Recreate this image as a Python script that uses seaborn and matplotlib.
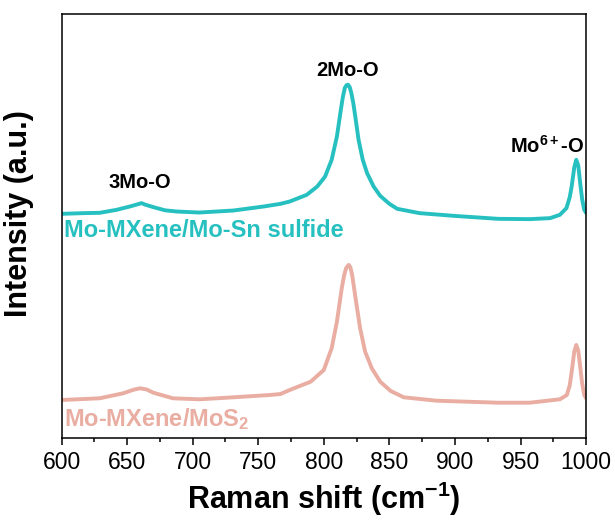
import matplotlib
matplotlib.use("Agg")
import matplotlib.pyplot as plt
from matplotlib.ticker import MultipleLocator
import pandas as pd
import seaborn as sns

# Raman spectra (arbitrary intensity units, offset for display)
shift_sulfide = [600, 617, 629, 642, 652, 658, 661, 664, 670, 679, 688, 705, 731, 754, 767,
                 774, 787, 795, 801, 806, 810, 813, 814.5, 816, 817.3, 818.5, 819.8, 821,
                 822.5, 824, 826.5, 829.7, 833, 838, 843, 850, 856, 873, 899, 933, 957,
                 972.6, 980, 985, 987.5, 989, 991, 992.5, 994, 995.5, 997, 998.6, 1000]
intensity_sulfide = [223.5, 224.2, 224.5, 227.5, 230.8, 233.0, 234.2, 232.6, 230.2, 227.0,
                     225.8, 224.8, 226.8, 230.8, 233.5, 235.8, 242.5, 250.8, 260.8, 277.5,
                     300.8, 327.5, 340.0, 349.2, 352.0, 352.5, 350.0, 344.2, 334.0, 320.8,
                     297.5, 277.5, 264.2, 250.8, 241.5, 233.5, 228.5, 224.2, 221.5, 218.5,
                     218.2, 219.2, 222.5, 229.2, 240.0, 250.8, 270.0, 277.5, 272.0, 254.2,
                     238.0, 227.5, 224.5]

shift_mos2 = [600, 629, 647, 655, 660, 665, 670, 685, 705.6, 731, 759, 767, 774, 790, 800,
              806, 810, 813.7, 815.5, 817, 819, 820.3, 821.6, 824.6, 827.7, 831.5, 836.6,
              843, 851, 861, 886, 933, 957, 980, 985.3, 987.5, 989.2, 991, 992.5, 994,
              995.5, 997, 998.6, 1000]
intensity_mos2 = [37.5, 39.2, 44.2, 47.8, 49.2, 48.0, 44.8, 39.2, 38.2, 40.2, 42.5, 43.5,
                  47.5, 55.8, 67.5, 89.2, 115.8, 149.2, 162.0, 169.2, 172.5, 170.0, 162.5,
                  135.8, 109.2, 85.8, 69.2, 55.8, 46.5, 40.2, 36.8, 34.8, 34.8, 38.2, 42.5,
                  52.0, 67.5, 86.0, 92.5, 87.0, 70.8, 54.0, 42.5, 39.2]

label_sulfide = "Mo-MXene/Mo-Sn sulfide"
label_mos2 = "Mo-MXene/MoS$_\\mathbf{2}$"
peak_labels = ["3Mo-O", "2Mo-O", "Mo$^{\\mathbf{6+}}$-O"]
peak_label_x = [660, 818.5, 970]
peak_label_y = [255, 367, 291]

color_sulfide = "#27C0C0"
color_mos2 = "#E9ADA2"

sns.set_style("ticks")
plt.rcParams["font.family"] = ["Liberation Sans", "DejaVu Sans"]
plt.rcParams["mathtext.fontset"] = "custom"
plt.rcParams["mathtext.rm"] = "Liberation Sans:bold"
plt.rcParams["mathtext.bf"] = "Liberation Sans:bold"
plt.rcParams["mathtext.it"] = "Liberation Sans:bold"
plt.rcParams["text.color"] = "black"
plt.rcParams["axes.labelcolor"] = "black"
plt.rcParams["xtick.color"] = "black"
plt.rcParams["ytick.color"] = "black"

df_sulfide = pd.DataFrame({"shift": shift_sulfide, "intensity": intensity_sulfide})
df_mos2 = pd.DataFrame({"shift": shift_mos2, "intensity": intensity_mos2})

fig = plt.figure(figsize=(6.15, 5.24), dpi=100)
ax = fig.add_axes([0.100, 0.165, 0.853, 0.808])

sns.lineplot(data=df_sulfide, x="shift", y="intensity", ax=ax, color=color_sulfide,
             linewidth=2.8, estimator=None, sort=False)
sns.lineplot(data=df_mos2, x="shift", y="intensity", ax=ax, color=color_mos2,
             linewidth=2.8, estimator=None, sort=False)

ax.set_xlim(600, 1000)
ax.set_ylim(0, 423)
ax.xaxis.set_major_locator(MultipleLocator(50))
ax.xaxis.set_minor_locator(MultipleLocator(25))
ax.set_yticks([])
ax.tick_params(axis="x", which="major", direction="out", length=5, width=1.1,
               labelsize=16.5, pad=5)
ax.tick_params(axis="x", which="minor", direction="out", length=3, width=1.1)
for sp in ax.spines.values():
    sp.set_linewidth(1.1)
    sp.set_color("black")

ax.set_xlabel("Raman shift (cm$^{\\mathbf{-1}}$)", fontsize=22, fontweight="bold",
              labelpad=4)
ax.set_ylabel("Intensity (a.u.)", fontsize=22, fontweight="bold")
ax.yaxis.set_label_coords(-0.053, 0.53)

for txt, px, py in zip(peak_labels, peak_label_x, peak_label_y):
    ax.text(px, py, txt, fontsize=14.5, fontweight="bold", ha="center", va="center")

ax.text(602, 207, label_sulfide, color=color_sulfide, fontsize=17, fontweight="bold",
        ha="left", va="center")
ax.text(602, 18, label_mos2, color=color_mos2, fontsize=17, fontweight="bold",
        ha="left", va="center")

fig.savefig("out.png", dpi=100)
